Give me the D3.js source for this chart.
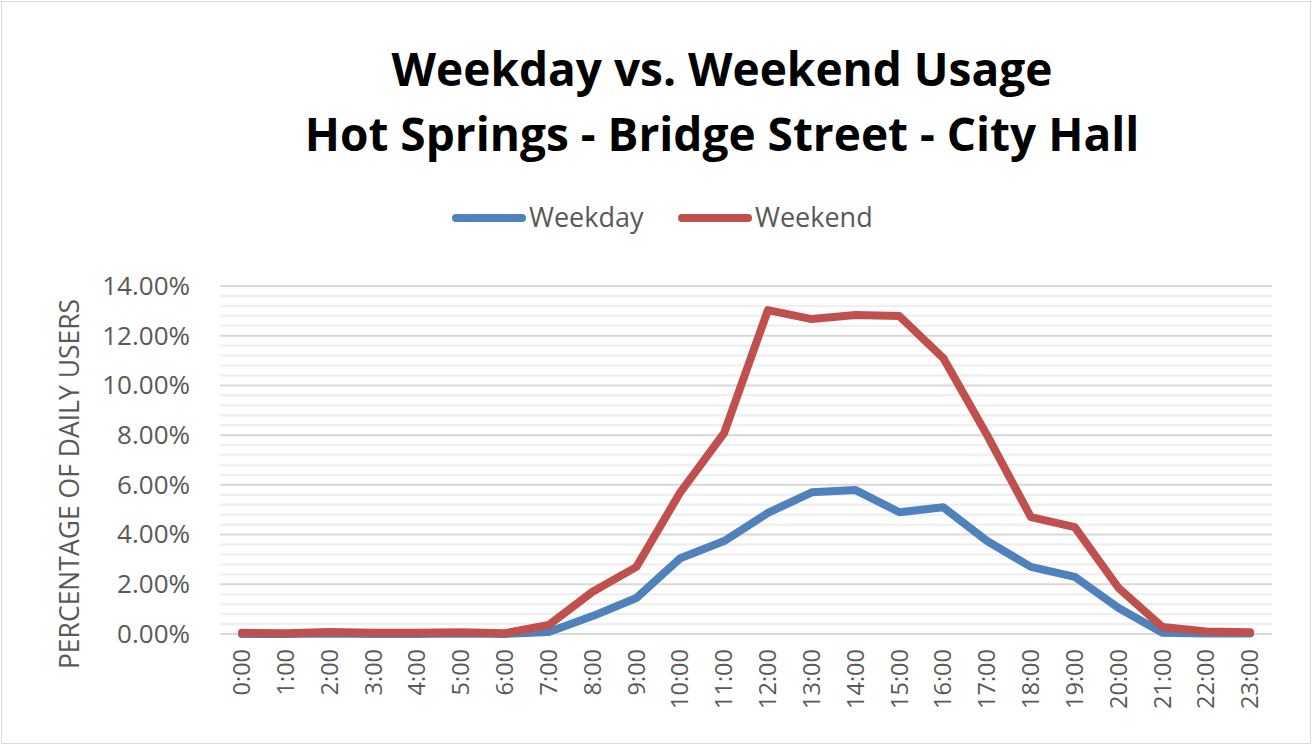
<!DOCTYPE html>
<html>
<head>
<meta charset="utf-8">
<script src="https://cdn.jsdelivr.net/npm/d3@7"></script>
<style>
  body { margin: 0; background: #fff; }
  svg { display: block; font-family: "Open Sans", Lato, sans-serif; }
</style>
</head>
<body>
<div id="chart"></div>
<script>
const hours = ["0:00","1:00","2:00","3:00","4:00","5:00","6:00","7:00","8:00","9:00","10:00","11:00",
  "12:00","13:00","14:00","15:00","16:00","17:00","18:00","19:00","20:00","21:00","22:00","23:00"];
const weekday = [0.0, 0.0, 0.02, 0.0, 0.0, 0.02, 0.0, 0.08, 0.72, 1.45, 3.05, 3.74,
  4.87, 5.7, 5.79, 4.9, 5.1, 3.74, 2.7, 2.3, 1.05, 0.05, 0.02, 0.02];
const weekend = [0.05, 0.03, 0.08, 0.05, 0.05, 0.07, 0.03, 0.36, 1.7, 2.7, 5.7, 8.08,
  13.03, 12.67, 12.83, 12.79, 11.1, 8.0, 4.7, 4.3, 1.85, 0.28, 0.1, 0.07];
const seriesNames = ["Weekday", "Weekend"];
const seriesColors = ["#4f81bd", "#c0504d"];
const majorTicks = [0, 2, 4, 6, 8, 10, 12, 14];

const W = 1312, H = 745;
const margin = { top: 286, right: 40, bottom: 111, left: 220 };
const width = W - margin.left - margin.right;
const height = H - margin.top - margin.bottom;

const svg = d3.select("#chart").append("svg").attr("width", W).attr("height", H);

svg.append("rect")
  .attr("x", 1.5).attr("y", 1.5).attr("width", W - 3).attr("height", H - 3)
  .attr("fill", "none").attr("stroke", "#d9d9d9");

// title
const title = svg.append("text")
  .attr("text-anchor", "middle")
  .attr("font-weight", "bold")
  .attr("font-size", 46)
  .attr("fill", "#000");
title.append("tspan").attr("x", 722).attr("y", 86).text("Weekday vs. Weekend Usage");
title.append("tspan").attr("x", 722).attr("y", 151).text("Hot Springs - Bridge Street - City Hall");

const chart = svg.append("g").attr("transform", `translate(${margin.left},${margin.top})`);

const x = d3.scaleBand().domain(hours).range([0, width]);
const y = d3.scaleLinear().domain([0, 14]).range([height, 0]);

// minor grid
const minor = d3.range(0, 14.01, 0.4).filter(v => Math.abs(v / 2 - Math.round(v / 2)) > 0.01);
chart.append("g").selectAll("line").data(minor).join("line")
  .attr("x1", 0).attr("x2", width)
  .attr("y1", d => y(d)).attr("y2", d => y(d))
  .attr("stroke", "#f0f0f0").attr("stroke-width", 2.5);

// major grid
chart.append("g").selectAll("line").data(majorTicks).join("line")
  .attr("x1", 0).attr("x2", width)
  .attr("y1", d => y(d)).attr("y2", d => y(d))
  .attr("stroke", "#d9d9d9").attr("stroke-width", 2);

// y axis labels
const yAxis = chart.append("g")
  .call(d3.axisLeft(y).tickValues(majorTicks).tickSize(0).tickPadding(30)
    .tickFormat(d => d.toFixed(2) + "%"));
yAxis.select(".domain").remove();
yAxis.selectAll("text").attr("font-size", 26).attr("fill", "#595959")
  .attr("font-family", "'Open Sans', sans-serif");

// x axis labels
const xAxis = chart.append("g").attr("transform", `translate(0,${height})`)
  .call(d3.axisBottom(x).tickSize(0).tickPadding(0));
xAxis.select(".domain").remove();
xAxis.selectAll("text")
  .attr("font-size", 23.5).attr("fill", "#595959")
  .attr("font-family", "'Open Sans', sans-serif")
  .attr("transform", "rotate(-90)")
  .attr("text-anchor", "end")
  .attr("x", -15).attr("y", 0).attr("dy", "0.35em");

// y axis title
svg.append("text")
  .attr("transform", "translate(79,484) rotate(-90)")
  .attr("text-anchor", "middle")
  .attr("font-size", 26.5).attr("fill", "#595959")
  .text("PERCENTAGE OF DAILY USERS");

// lines
const line = d3.line().x((d, i) => x(hours[i]) + x.bandwidth() / 2).y(d => y(d));
[weekday, weekend].forEach((s, i) => {
  chart.append("path").datum(s)
    .attr("d", line)
    .attr("fill", "none")
    .attr("stroke", seriesColors[i])
    .attr("stroke-width", 8)
    .attr("stroke-linejoin", "round")
    .attr("stroke-linecap", "round");
});

// legend
const legendX = [452, 678];
seriesNames.forEach((name, i) => {
  const g = svg.append("g").attr("transform", `translate(${legendX[i]},218)`);
  g.append("line").attr("x1", 4).attr("x2", 70).attr("y1", 0).attr("y2", 0)
    .attr("stroke", seriesColors[i]).attr("stroke-width", 8).attr("stroke-linecap", "round");
  g.append("text").attr("x", 77).attr("y", 0).attr("dy", "0.35em")
    .attr("font-size", 27).attr("fill", "#595959").text(name);
});
</script>
</body>
</html>
